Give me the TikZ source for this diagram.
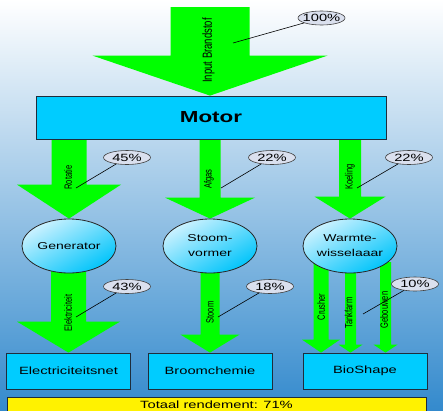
\documentclass[tikz,border=0pt]{standalone}
\usepackage{fontspec}
\setmainfont{Liberation Sans}
\newfontfamily\widefont{Liberation Sans}[FakeStretch=1.4]
\newfontfamily\tallfont{Liberation Sans}[FakeStretch=0.72]
\usetikzlibrary{shapes.geometric,calc}

\definecolor{boxblue}{RGB}{0,204,255}
\definecolor{flowgreen}{RGB}{0,255,0}
\definecolor{edge}{RGB}{30,45,60}
\definecolor{callout}{RGB}{218,224,238}
\definecolor{bgmid}{RGB}{186,208,232}
\definecolor{bgblue}{RGB}{52,138,205}
\definecolor{ballhi}{RGB}{205,242,255}
\definecolor{balllo}{RGB}{0,196,250}

\pgfdeclarelayer{back}
\pgfdeclarelayer{flows}
\pgfsetlayers{back,flows,main}

\tikzset{
  flow/.style={fill=flowgreen},
  flowlabel/.style={rotate=90, inner sep=0pt, font=\tallfont\fontsize{10.5}{10.5}\selectfont},
}

% block arrow: start, tip, shaft half width, head half width, head length
\newcommand{\flowarrow}[5]{%
  \fill[flow] let \p1=(#1), \p2=(#2) in
    (\x2-#3,\y1) -- (\x2+#3,\y1) -- (\x2+#3,\y2+#5) -- (\x2+#4,\y2+#5)
    -- (\x2,\y2) -- (\x2-#4,\y2+#5) -- (\x2-#3,\y2+#5) -- cycle;}
\newcommand{\pct}[1]{\makebox[0pt]{#1\%}}

\begin{document}
\begin{tikzpicture}[x=1pt,y=-1pt]

        \useasboundingbox (0,0) rectangle (443,410);
        \begin{pgfonlayer}{back}
          \shade[top color=white, middle color=bgmid, bottom color=bgblue] (0,0) rectangle (443,410);
        \end{pgfonlayer}

        \begin{scope}[every node/.style={rectangle, draw=edge, fill=boxblue, line width=0.8pt,
            minimum width=124pt, minimum height=36pt, font=\widefont\fontsize{10.5}{12}\selectfont}]
          \node[minimum width=350pt, minimum height=43pt,
            font=\widefont\bfseries\fontsize{16}{18}\selectfont] (motor) at (211,117.5) {Motor};
          \node (net)   at (68.5,371) {Electriciteitsnet};
          \node (broom) at (210,371)  {Broomchemie};
          \node (bio)   at (365,371)  {BioShape};
          \node[fill=yellow, minimum width=419pt, minimum height=15pt] (totaal) at (216.5,404.5) {Totaal rendement: 71\%};
        \end{scope}

        \begin{scope}[every node/.style={ellipse, draw=black!85, line width=0.8pt,
            top color=ballhi, bottom color=balllo, shading angle=30,
            minimum width=94pt, minimum height=54pt, inner sep=0pt, align=center,
            font=\widefont\fontsize{10}{15}\selectfont}]
          \node (gen)   at (69,246)  {Generator};
          \node (stoom) at (210,246) {Stoom-\\vormer};
          \node (war)   at (350,246) {Warmte-\\wisselaaar};
        \end{scope}

        \coordinate (fuel)   at (210,7);
        \coordinate (crush)  at (321,246);
        \coordinate (tank)   at (350.5,273);
        \coordinate (gebouw) at (385.5,262);

        \begin{pgfonlayer}{flows}
          \flowarrow{fuel}{fuel |- motor.north}{39.5pt}{117.5pt}{40pt}
          \flowarrow{motor.south -| gen.north}{gen.north}{17.5pt}{52pt}{34pt}
          \flowarrow{motor.south -| stoom.north}{stoom.north}{10.5pt}{45pt}{21pt}
          \flowarrow{motor.south -| war.north}{war.north}{11pt}{35.5pt}{22pt}
          \flowarrow{gen}{net.north}{17.5pt}{51.5pt}{31pt}
          \flowarrow{stoom}{broom.north}{9.5pt}{29.5pt}{18pt}
          \flowarrow{crush}{crush |- bio.north}{7.5pt}{19pt}{13pt}
          \flowarrow{tank}{tank |- bio.north}{5.5pt}{12pt}{8pt}
          \flowarrow{gebouw}{gebouw |- bio.north}{5.5pt}{12pt}{8pt}
        \end{pgfonlayer}

        \begin{scope}[every node/.style={flowlabel}]
          \node[font=\tallfont\fontsize{13.2}{13.2}\selectfont] (lfuel) at (208.5,50.5) {Input Brandstof};
          \node (lrot)   at (68,177.5)  {Rotatie};
          \node (lafgas) at (209,179)   {Afgas};
          \node (lkoel)  at (350,177)   {Koeling};
          \node (lelek)  at (68,313)    {Elektriciteit};
          \node (lstoom) at (210,312.5) {Stoom};
          \node (lcrush) at (321,307)   {Crusher};
          \node (ltank)  at (348.5,313) {Tankfarm};
          \node (lgeb)   at (384,310)   {Gebouwen};
        \end{scope}

        \begin{scope}[every node/.style={ellipse, draw=black!75, fill=callout, line width=0.6pt,
            minimum width=47pt, minimum height=14pt, inner sep=0pt,
            font=\widefont\fontsize{10.5}{10.5}\selectfont}]
          \node (c100) at (321.5,18)  {\pct{100}};
          \node (c45)  at (127,157.5) {\pct{45}};
          \node (c22a) at (272,157.5) {\pct{22}};
          \node (c22b) at (409,157.5) {\pct{22}};
          \node (c43)  at (127,286.5) {\pct{43}};
          \node (c18)  at (270,286.5) {\pct{18}};
          \node (c10)  at (415,284)   {\pct{10}};
        \end{scope}

        \coordinate (p100) at (233,43);
        \coordinate (p45)  at (76,188);
        \coordinate (p22a) at (221,188);
        \coordinate (p22b) at (357,188);
        \coordinate (p43)  at (76,317);
        \coordinate (p18)  at (218,317);
        \coordinate (p10)  at (363,314);

        \begin{scope}[line width=0.6pt]
          \draw (p100) -- (c100);
          \draw (p45)  -- (c45);
          \draw (p22a) -- (c22a);
          \draw (p22b) -- (c22b);
          \draw (p43)  -- (c43);
          \draw (p18)  -- (c18);
          \draw (p10)  -- (c10);
        \end{scope}

      \end{tikzpicture}
\end{document}
